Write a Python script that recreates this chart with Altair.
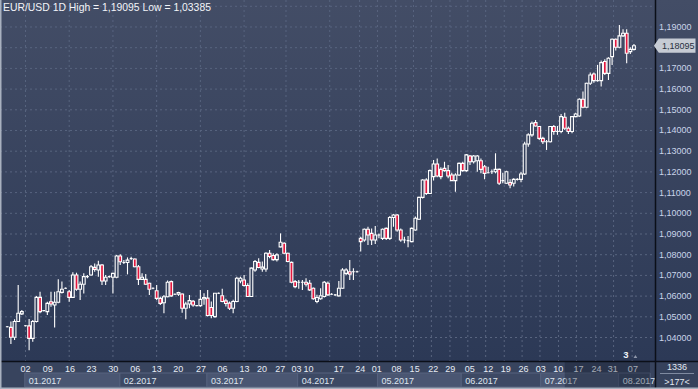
import altair as alt
import pandas as pd

# ---- candle data (index -1 .. 171) ----
opens = [1.0452, 1.0449, 1.0401, 1.0477, 1.0514, 1.0457, 1.0456, 1.0396, 1.0477, 1.0594,
         1.0530, 1.0525, 1.0573, 1.0557, 1.0570, 1.0618, 1.0638, 1.0621, 1.0594, 1.0702,
         1.0633, 1.0657, 1.0694, 1.0702, 1.0739, 1.0726, 1.0750, 1.0673, 1.0694, 1.0691,
         1.0691, 1.0794, 1.0762, 1.0762, 1.0782, 1.0779, 1.0742, 1.0681, 1.0681, 1.0662,
         1.0638, 1.0626, 1.0589, 1.0568, 1.0597, 1.0670, 1.0609, 1.0609, 1.0610, 1.0541,
         1.0562, 1.0575, 1.0554, 1.0554, 1.0587, 1.0590, 1.0545, 1.0501, 1.0614, 1.0602,
         1.0577, 1.0566, 1.0541, 1.0574, 1.0673, 1.0678, 1.0651, 1.0598, 1.0726, 1.0763,
         1.0731, 1.0731, 1.0807, 1.0796, 1.0776, 1.0838, 1.0855, 1.0807, 1.0763, 1.0670,
         1.0667, 1.0667, 1.0667, 1.0662, 1.0638, 1.0574, 1.0587, 1.0598, 1.0662, 1.0609,
         1.0606, 1.0601, 1.0638, 1.0710, 1.0718, 1.0718, 1.0718, 1.0879, 1.0871, 1.0923,
         1.0903, 1.0871, 1.0895, 1.0879, 1.0927, 1.0879, 1.0980, 1.0992, 1.0919, 1.0871,
         1.0868, 1.0863, 1.0919, 1.0971, 1.1077, 1.1161, 1.1096, 1.1177, 1.1238, 1.1212,
         1.1217, 1.1206, 1.1185, 1.1158, 1.1185, 1.1241, 1.1206, 1.1277, 1.1249, 1.1254,
         1.1254, 1.1225, 1.1196, 1.1201, 1.1201, 1.1212, 1.1158, 1.1145, 1.1148, 1.1145,
         1.1164, 1.1164, 1.1190, 1.1335, 1.1379, 1.1438, 1.1419, 1.1362, 1.1346, 1.1346,
         1.1419, 1.1395, 1.1395, 1.1464, 1.1411, 1.1395, 1.1467, 1.1470, 1.1551, 1.1512,
         1.1628, 1.1673, 1.1641, 1.1641, 1.1733, 1.1676, 1.1757, 1.1841, 1.1802, 1.1857,
         1.1870, 1.1781, 1.1792]
highs = [1.0456, 1.0477, 1.0488, 1.0654, 1.0533, 1.0460, 1.0489, 1.0485, 1.0601, 1.0621,
         1.0533, 1.0573, 1.0621, 1.0621, 1.0681, 1.0670, 1.0642, 1.0629, 1.0715, 1.0713,
         1.0670, 1.0710, 1.0702, 1.0750, 1.0758, 1.0771, 1.0755, 1.0702, 1.0699, 1.0713,
         1.0799, 1.0802, 1.0774, 1.0787, 1.0790, 1.0782, 1.0750, 1.0710, 1.0707, 1.0665,
         1.0642, 1.0654, 1.0597, 1.0605, 1.0675, 1.0675, 1.0613, 1.0621, 1.0613, 1.0573,
         1.0605, 1.0581, 1.0557, 1.0629, 1.0614, 1.0630, 1.0574, 1.0614, 1.0618, 1.0635,
         1.0587, 1.0574, 1.0582, 1.0694, 1.0694, 1.0702, 1.0662, 1.0738, 1.0775, 1.0783,
         1.0767, 1.0812, 1.0823, 1.0807, 1.0807, 1.0903, 1.0860, 1.0810, 1.0767, 1.0678,
         1.0678, 1.0678, 1.0686, 1.0678, 1.0641, 1.0606, 1.0638, 1.0673, 1.0670, 1.0614,
         1.0609, 1.0673, 1.0735, 1.0735, 1.0775, 1.0735, 1.0722, 1.0887, 1.0927, 1.0935,
         1.0927, 1.0939, 1.0903, 1.0927, 1.0932, 1.0987, 1.0997, 1.0997, 1.0927, 1.0887,
         1.0890, 1.0932, 1.0984, 1.1080, 1.1164, 1.1169, 1.1212, 1.1257, 1.1265, 1.1222,
         1.1249, 1.1233, 1.1196, 1.1193, 1.1245, 1.1249, 1.1286, 1.1282, 1.1282, 1.1282,
         1.1265, 1.1233, 1.1225, 1.1212, 1.1290, 1.1217, 1.1196, 1.1206, 1.1164, 1.1169,
         1.1169, 1.1200, 1.1346, 1.1387, 1.1443, 1.1451, 1.1422, 1.1370, 1.1354, 1.1422,
         1.1427, 1.1422, 1.1480, 1.1486, 1.1419, 1.1470, 1.1486, 1.1556, 1.1588, 1.1631,
         1.1680, 1.1680, 1.1717, 1.1738, 1.1744, 1.1754, 1.1845, 1.1845, 1.19095, 1.1889,
         1.1889, 1.1802, 1.1818]
lows = [1.0449, 1.0369, 1.0388, 1.0475, 1.0509, 1.0454, 1.03385, 1.0380, 1.0472, 1.0517,
        1.0527, 1.0509, 1.0549, 1.0448, 1.0565, 1.0613, 1.0635, 1.0573, 1.0592, 1.0626,
        1.0581, 1.0613, 1.0686, 1.0699, 1.0718, 1.0694, 1.0654, 1.0654, 1.0689, 1.0613,
        1.0686, 1.0750, 1.0755, 1.0705, 1.0774, 1.0739, 1.0654, 1.0678, 1.0654, 1.0605,
        1.0633, 1.0581, 1.0557, 1.0517, 1.0594, 1.0597, 1.0605, 1.0601, 1.0520, 1.0488,
        1.0541, 1.0549, 1.0551, 1.0549, 1.0558, 1.0501, 1.0493, 1.0496, 1.0610, 1.0570,
        1.0550, 1.0533, 1.0517, 1.0570, 1.0662, 1.0646, 1.0596, 1.0596, 1.0718, 1.0735,
        1.0718, 1.0718, 1.0783, 1.0771, 1.0767, 1.0835, 1.0802, 1.0763, 1.0662, 1.0638,
        1.0635, 1.0630, 1.0646, 1.0625, 1.0582, 1.0566, 1.0582, 1.0593, 1.0602, 1.0606,
        1.0602, 1.0598, 1.0635, 1.0702, 1.0678, 1.0678, 1.0714, 1.0815, 1.0863, 1.0847,
        1.0847, 1.0852, 1.0879, 1.0871, 1.0871, 1.0871, 1.0935, 1.0911, 1.0863, 1.0855,
        1.0836, 1.0860, 1.0916, 1.0968, 1.1072, 1.1088, 1.1093, 1.1158, 1.1174, 1.1164,
        1.1201, 1.1169, 1.1156, 1.1104, 1.1180, 1.1201, 1.1201, 1.1233, 1.1241, 1.1201,
        1.1193, 1.1164, 1.1193, 1.1190, 1.1193, 1.1137, 1.1145, 1.1141, 1.1121, 1.1129,
        1.1158, 1.1150, 1.1185, 1.1322, 1.1370, 1.1419, 1.1354, 1.1335, 1.1306, 1.1342,
        1.1379, 1.1379, 1.1387, 1.1403, 1.1383, 1.1387, 1.1464, 1.1467, 1.1507, 1.1507,
        1.1620, 1.1631, 1.1636, 1.1612, 1.1668, 1.1644, 1.1717, 1.1786, 1.1797, 1.1853,
        1.1725, 1.1770, 1.1786]
closes = [1.0452, 1.0401, 1.0477, 1.0517, 1.0525, 1.0457, 1.0396, 1.0477, 1.0594, 1.0525,
          1.0530, 1.0565, 1.0562, 1.0570, 1.0621, 1.0633, 1.0638, 1.0594, 1.0702, 1.0633,
          1.0657, 1.0694, 1.0694, 1.0742, 1.0729, 1.0750, 1.0673, 1.0691, 1.0694, 1.0710,
          1.0794, 1.0766, 1.0762, 1.0774, 1.0782, 1.0742, 1.0681, 1.0691, 1.0657, 1.0633,
          1.0638, 1.0589, 1.0565, 1.0597, 1.0667, 1.0601, 1.0609, 1.0617, 1.0541, 1.0562,
          1.0578, 1.0557, 1.0554, 1.0584, 1.0593, 1.0506, 1.0506, 1.0614, 1.0614, 1.0574,
          1.0564, 1.0541, 1.0574, 1.0686, 1.0686, 1.0651, 1.0598, 1.0735, 1.0767, 1.0738,
          1.0740, 1.0807, 1.0791, 1.0776, 1.0799, 1.0860, 1.0807, 1.0767, 1.0667, 1.0646,
          1.0667, 1.0667, 1.0657, 1.0630, 1.0587, 1.0593, 1.0602, 1.0667, 1.0606, 1.0609,
          1.0606, 1.0638, 1.0726, 1.0726, 1.0706, 1.0718, 1.0718, 1.0863, 1.0923, 1.0895,
          1.0871, 1.0895, 1.0895, 1.0923, 1.0879, 1.0980, 1.0992, 1.0919, 1.0871, 1.0871,
          1.0868, 1.0927, 1.0976, 1.1077, 1.1161, 1.1096, 1.1206, 1.1238, 1.1180, 1.1177,
          1.1206, 1.1180, 1.1158, 1.1185, 1.1241, 1.1206, 1.1282, 1.1249, 1.1277, 1.1277,
          1.1212, 1.1193, 1.1196, 1.1201, 1.1212, 1.1145, 1.1158, 1.1201, 1.1137, 1.1164,
          1.1164, 1.1190, 1.1335, 1.1379, 1.1435, 1.1422, 1.1362, 1.1346, 1.1346, 1.1419,
          1.1395, 1.1395, 1.1467, 1.1411, 1.1395, 1.1467, 1.1480, 1.1551, 1.1512, 1.1628,
          1.1668, 1.1641, 1.1641, 1.1728, 1.1676, 1.1749, 1.1841, 1.1802, 1.1857, 1.1870,
          1.1773, 1.1792, 1.18095]
first_index = -1

# ---- axis text ----
price_ticks = [1.04, 1.05, 1.06, 1.07, 1.08, 1.09, 1.10, 1.11, 1.12, 1.13, 1.14, 1.15,
               1.16, 1.17, 1.18, 1.19]
grid_levels = price_ticks + [1.20]
vgrid_at = [4, 16, 28, 40, 52, 64, 75.5, 87.5, 95.7, 100.6, 105.6, 110.5, 115.4, 120.5,
            125.4, 130.3, 135.4, 140.3, 145.2, 150.3, 155.2, 160.5, 165.4, 170.5]
day_labels = ["02", "09", "16", "23", "30", "06", "13", "20", "27", "06", "13", "20",
              "27", "03", "10", "17", "24", "01", "08", "15", "22", "29", "05", "12",
              "19", "26", "03", "10", "17", "24", "31", "07"]
day_at = [4, 10.1, 16.2, 22.1, 28.1, 34.1, 40, 45.9, 52.2, 58.1, 64.1, 68.9, 73.9, 78.4,
          81.7, 90, 95.9, 100.4, 105.8, 110.8, 115.9, 120.6, 125.9, 131, 135.8, 140.7,
          145.4, 150.2, 155.8, 160.7, 165.2, 170.7]
month_labels = ["01.2017", "02.2017", "03.2017", "04.2017", "05.2017", "06.2017",
                "07.2017", "08.2017"]
month_start = [3.8, 29.9, 53.8, 78.7, 100.6, 123.6, 145.4, 166.8]
month_end = [29.9, 53.8, 78.7, 100.6, 123.6, 145.4, 166.8, 175.4]
month_shade = ["light", "dark", "light", "dark", "light", "dark", "light", "dark"]
future_from = 152
bars_count_text = "1336"
bars_range_text = ">177<"
marker_text = "3"
marker_at = 168.8

FONT = "Liberation Sans"
W, H = 655, 361

df = pd.DataFrame({
    "i": list(range(first_index, first_index + len(opens))),
    "o": opens, "h": highs, "l": lows, "c": closes,
})

xs = alt.Scale(domain=[-1.62, 175.4], nice=False, zero=False)
ys = alt.Scale(domain=[1.02865, 1.20304], nice=False, zero=False)

one = pd.DataFrame({"k": [0]})

bg = alt.Chart(one).mark_rect(
    color=alt.LinearGradient(
        gradient="linear",
        stops=[alt.GradientStop(color="#434d66", offset=0),
               alt.GradientStop(color="#2c3956", offset=1)],
        x1=0, x2=0, y1=0, y2=1)
).encode(x=alt.value(0), x2=alt.value(698), y=alt.value(0), y2=alt.value(H))

bottom_panel = alt.Chart(one).mark_rect(color="#38445e").encode(
    x=alt.value(0), x2=alt.value(698), y=alt.value(H), y2=alt.value(389))

mdf = pd.DataFrame({"m": month_labels, "s": month_start, "e": month_end, "t": month_shade})
month_boxes = alt.Chart(mdf).mark_rect(stroke="#56627e", strokeWidth=1).encode(
    x=alt.X("s:Q", scale=xs, axis=None), x2="e:Q",
    y=alt.value(373), y2=alt.value(387),
    fill=alt.Fill("t:N", scale=alt.Scale(domain=["light", "dark"],
                                         range=["#4a5672", "#3d4964"]), legend=None),
)

hgrid = alt.Chart(pd.DataFrame({"lv": grid_levels})).mark_rule(
    color="#58647f", strokeDash=[2, 3], strokeWidth=1
).encode(y=alt.Y("lv:Q", scale=ys, axis=None), x=alt.value(0), x2=alt.value(W))

vgrid = alt.Chart(pd.DataFrame({"vx": vgrid_at})).mark_rule(
    color="#58647f", strokeDash=[2, 3], strokeWidth=1
).encode(x=alt.X("vx:Q", scale=xs, axis=None), y=alt.value(0), y2=alt.value(H))

base = alt.Chart(df).transform_calculate(
    top="max(datum.o, datum.c)", bot="min(datum.o, datum.c)")

wick_up = base.mark_rule(color="white", strokeWidth=1.1).encode(
    x=alt.X("i:Q", scale=xs, axis=None),
    y=alt.Y("h:Q", scale=ys, axis=None), y2="top:Q")
wick_dn = base.mark_rule(color="white", strokeWidth=1.1).encode(
    x=alt.X("i:Q", scale=xs, axis=None),
    y=alt.Y("bot:Q", scale=ys, axis=None), y2="l:Q")

bodies = base.mark_bar(size=2.8, stroke="white", strokeWidth=1.1).encode(
    x=alt.X("i:Q", scale=xs, axis=None),
    y=alt.Y("top:Q", scale=ys, axis=None),
    y2="bot:Q",
    fill=alt.condition("datum.c < datum.o", alt.value("#e3173e"), alt.value("#34405c")),
)

last_close = closes[-1]

# right price axis labels (the one under the last-price tag is hidden, as in the original)
pdf = pd.DataFrame({"p": price_ticks})
price_labels = alt.Chart(pdf).transform_filter(
    f"abs(datum.p - {last_close}) > 0.004"
).transform_calculate(
    t="replace(format(datum.p, '.5f'), '.', ',')"
).mark_text(font=FONT, fontSize=9, color="#c9d5ea", align="left",
            baseline="middle").encode(
    x=alt.value(659), y=alt.Y("p:Q", scale=ys, axis=None), text="t:N")

ddf = pd.DataFrame({"d": day_labels, "x": day_at})
day_text = alt.Chart(ddf).mark_text(font=FONT, fontSize=9, color="#e6ebf4",
                                    baseline="middle", align="center").encode(
    x=alt.X("x:Q", scale=xs, axis=None), y=alt.value(368.5), text="d:N")

month_text = alt.Chart(mdf).mark_text(font=FONT, fontSize=9, color="#dfe5ef",
                                      baseline="middle", align="left", dx=4).encode(
    x=alt.X("s:Q", scale=xs, axis=None), y=alt.value(380.5), text="m:N")

overlay = alt.Chart(pd.DataFrame({"a": [future_from], "b": [month_end[-1]]})).mark_rect(
    color="#0a1020", opacity=0.3).encode(
    x=alt.X("a:Q", scale=xs, axis=None), x2="b:Q", y=alt.value(H), y2=alt.value(389))

corner = alt.Chart(one).mark_rect(color="#36425c").encode(
    x=alt.value(W), x2=alt.value(698), y=alt.value(H), y2=alt.value(389))

hline = alt.Chart(one).mark_rule(color="#0b0f18", strokeWidth=1.5).encode(
    x=alt.value(0), x2=alt.value(698), y=alt.value(H + 0.5))
vline = alt.Chart(one).mark_rule(color="#0b0f18", strokeWidth=1.5).encode(
    x=alt.value(W + 0.5), y=alt.value(0), y2=alt.value(389))
left_border = alt.Chart(one).mark_rule(color="#a9b1bf", strokeWidth=1.5).encode(
    x=alt.value(0.75), y=alt.value(0), y2=alt.value(389))
bottom_border = alt.Chart(one).mark_rule(color="#a9b1bf", strokeWidth=1.5).encode(
    x=alt.value(0), x2=alt.value(698), y=alt.value(388.25))

hi = max(highs)
lo = min(lows)
title_str = "EUR/USD 1D High = {} Low = {}".format(
    f"{hi:.5f}".replace(".", ","), f"{lo:.5f}".replace(".", ","))
title = alt.Chart(one).mark_text(font=FONT, fontSize=10.4, color="#f2f4f8",
                                 align="left", baseline="middle").encode(
    x=alt.value(3), y=alt.value(8), text=alt.value(title_str))

last = pd.DataFrame({"p": [last_close], "t": [f"{last_close:.5f}".replace(".", ",")]})
tag_shape = "M-1.13,0 L-0.9,-0.33 L1,-0.33 L1,0.33 L-0.9,0.33 Z"
tag = alt.Chart(last).mark_point(shape=tag_shape, filled=True, fill="#c6cbd4",
                                 stroke="#c6cbd4", opacity=1, size=1369).encode(
    x=alt.value(676), y=alt.Y("p:Q", scale=ys, axis=None))
tag_text = alt.Chart(last).mark_text(font=FONT, fontSize=9, color="#27303f",
                                     align="left", baseline="middle").encode(
    x=alt.value(662), y=alt.Y("p:Q", scale=ys, axis=None), text="t:N")

mk = pd.DataFrame({"x": [marker_at], "x2": [marker_at + 2.6], "t": [marker_text]})
marker = alt.Chart(mk).mark_text(font=FONT, fontSize=9.5, fontWeight="bold",
                                 color="#f0f3f8", baseline="middle").encode(
    x=alt.X("x:Q", scale=xs, axis=None), y=alt.value(355), text="t:N")
marker_tri = alt.Chart(mk).mark_point(shape="triangle-up", filled=True,
                                      color="#8f98ab", size=14, opacity=1).encode(
    x=alt.X("x2:Q", scale=xs, axis=None), y=alt.value(356.5))

count_text = alt.Chart(one).mark_text(font=FONT, fontSize=9, color="#e3e8f1",
                                      baseline="middle", align="center").encode(
    x=alt.value(677), y=alt.value(367), text=alt.value(bars_count_text))
count_rule = alt.Chart(one).mark_rule(color="#7f8aa0", strokeWidth=1).encode(
    x=alt.value(660), x2=alt.value(694), y=alt.value(373.5))
range_text = alt.Chart(one).mark_text(font=FONT, fontSize=9, color="#e3e8f1",
                                      baseline="middle", align="center").encode(
    x=alt.value(677), y=alt.value(381.5), text=alt.value(bars_range_text))

chart = alt.layer(
    bg, bottom_panel, month_boxes, hgrid, vgrid, wick_up, wick_dn, bodies,
    day_text, month_text, overlay, corner, hline, vline, left_border, bottom_border,
    title, price_labels, tag, tag_text, marker, marker_tri, count_text, count_rule,
    range_text,
).properties(
    width=W, height=H,
    autosize=alt.AutoSizeParams(type="none"),
    padding={"left": 0, "top": 0, "right": 43, "bottom": 28},
).configure(background="#36425c").configure_view(stroke=None)

chart.save("out.html", embed_options={"renderer": "svg", "actions": False})
